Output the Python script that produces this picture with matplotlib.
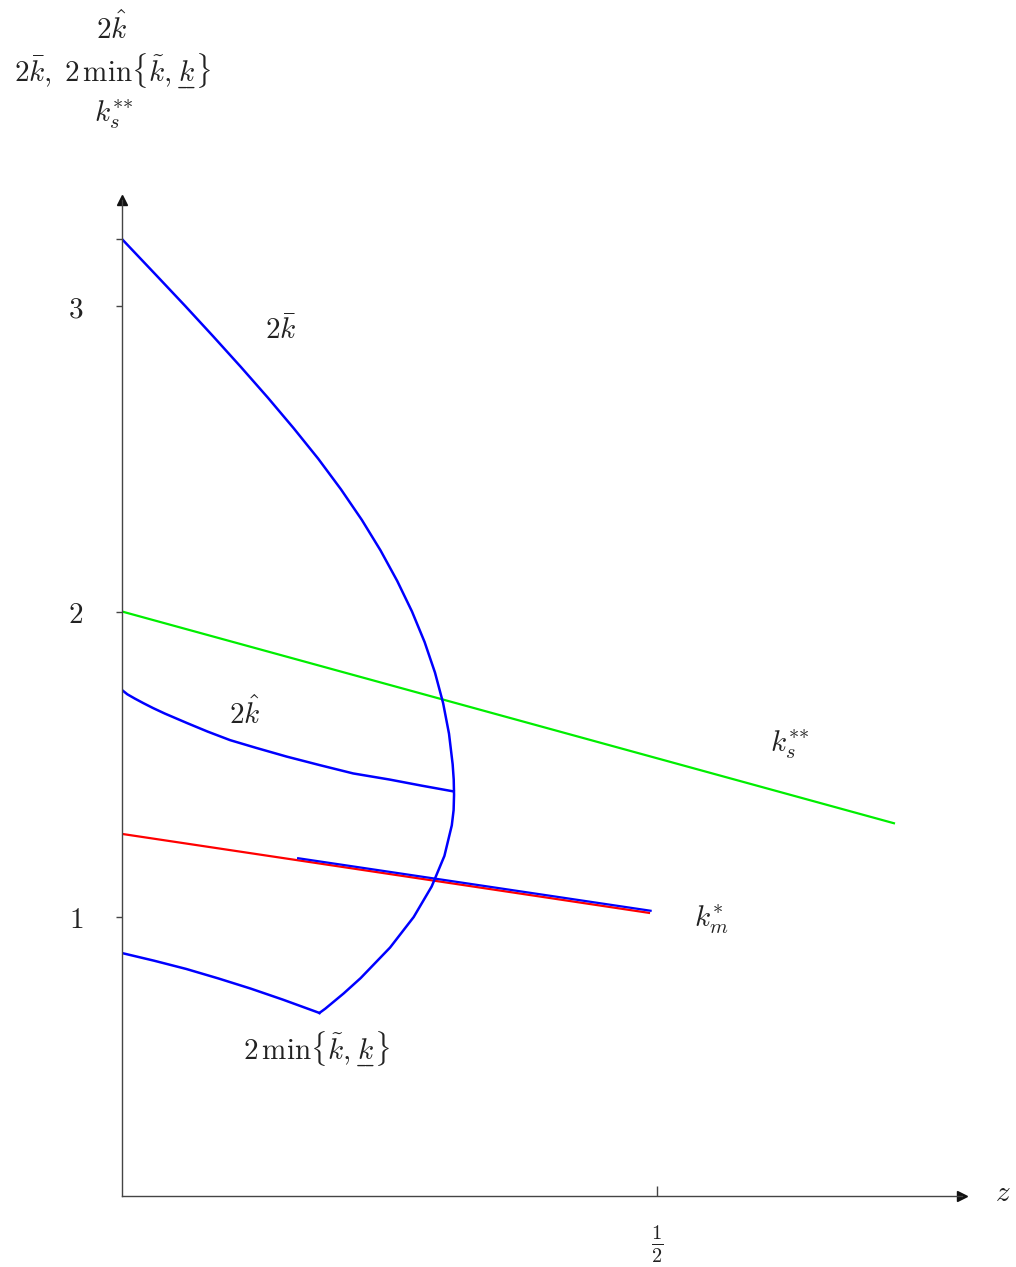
import io
import matplotlib
matplotlib.use("Agg")
import matplotlib.pyplot as plt
from matplotlib.font_manager import FontProperties
from matplotlib.mathtext import math_to_image

plt.rcParams['mathtext.fontset'] = 'cm'
plt.rcParams['font.family'] = ['DejaVu Serif']

# ---- data ----
# 2*k_bar curve (upper branch through the vertex down to the cusp)
z_kbar = [0.0, 0.0322, 0.0591, 0.0854, 0.1112, 0.1363, 0.1604, 0.1834, 0.2046,
          0.2241, 0.2416, 0.2572, 0.2710, 0.2828, 0.2925, 0.3001, 0.3056, 0.3090,
          0.3100, 0.3103, 0.3099, 0.3082, 0.3013, 0.2894, 0.2726, 0.2505, 0.2230,
          0.2072, 0.1900, 0.1845]
y_kbar = [3.219, 3.100, 3.000, 2.900, 2.800, 2.700, 2.600, 2.500, 2.400,
          2.300, 2.200, 2.100, 2.000, 1.900, 1.800, 1.700, 1.600, 1.500,
          1.450, 1.400, 1.350, 1.300, 1.200, 1.100, 1.000, 0.900, 0.800,
          0.750, 0.700, 0.686]
# 2*k_hat curve
z_khat = [0.0, 0.005, 0.012, 0.020, 0.029, 0.040, 0.0607, 0.080, 0.101, 0.125,
          0.154, 0.185, 0.216, 0.250, 0.280, 0.3100]
y_khat = [1.743, 1.729, 1.715, 1.700, 1.684, 1.666, 1.635, 1.607, 1.579, 1.554,
          1.525, 1.497, 1.470, 1.450, 1.430, 1.411]
# 2*min{k_tilde, k_under}
z_kmin = [0.0, 0.030, 0.060, 0.090, 0.120, 0.150, 0.1845]
y_kmin = [0.882, 0.857, 0.830, 0.799, 0.766, 0.730, 0.686]
# k_s** (green)
z_ks = [0.0, 0.7224]
y_ks = [2.0, 1.306]
# k_m* (red)
z_km = [0.0, 0.4935]
y_km = [1.272, 1.013]
# short blue segment over k_m*
z_seg = [0.1636, 0.4950]
y_seg = [1.193, 1.020]

yticks = [1, 2, 3, 3.219]
ytick_labels = [r'$1$', r'$2$', r'$3$', '']
xticks = [0.5]
xtick_labels = [r'$\frac{1}{2}$']

# ---- figure ----
W, H = 1016, 1267
fig = plt.figure(figsize=(W / 100, H / 100), dpi=100)
ax = fig.add_axes([122 / W, 1 - 1196 / H, (962 - 122) / W, (1196 - 200) / H])
ax.set_xlim(0, 0.785)
ax.set_ylim(0.0868, 3.347)

axc = '#444444'
txtc = '#222222'
for s in ['top', 'right']:
    ax.spines[s].set_visible(False)
for s in ['left', 'bottom']:
    ax.spines[s].set_color(axc)
    ax.spines[s].set_linewidth(1.0)
ax.plot(1, 0, '>', color='#111111', ms=7, transform=ax.transAxes, clip_on=False)
ax.plot(0, 1, '^', color='#111111', ms=7, transform=ax.transAxes, clip_on=False)

FS = 21
ax.set_yticks(yticks)
ax.set_yticklabels(ytick_labels, fontsize=FS, color=txtc)
ax.tick_params(axis='y', direction='out', length=4, width=1, color=axc, pad=24)
ax.set_xticks(xticks)
ax.set_xticklabels(xtick_labels, fontsize=FS, color=txtc)
ax.tick_params(axis='x', direction='in', length=7, width=1, color=axc, pad=20)

lw = 1.8
ax.plot(z_ks, y_ks, color='#00ee00', lw=1.6, solid_capstyle='butt')
ax.plot(z_km, y_km, color='#ff0000', lw=1.6, solid_capstyle='butt')
ax.plot(z_seg, y_seg, color='#0000ff', lw=1.6, solid_capstyle='butt')
ax.plot(z_kbar, y_kbar, color='#0000ff', lw=lw, solid_joinstyle='round')
ax.plot(z_khat, y_khat, color='#0000ff', lw=lw, solid_joinstyle='round')
ax.plot(z_kmin, y_kmin, color='#0000ff', lw=lw, solid_joinstyle='round')


def ok(s):
    try:
        math_to_image(s, io.BytesIO(), prop=FontProperties(size=10), format='png')
        return True
    except Exception:
        return False


under_k = r'k'
for cand in [r'\underline{k}', r'\underset{\_\!\_}{k}', r'\underset{\_}{k}']:
    if ok('$' + cand + '$'):
        under_k = cand
        break

ss = r'{*}{*}'
if not ok(r'$k_s^{' + ss + r'}$'):
    ss = r'**'

lbl_min = r'$2\,\min\{\tilde{k},' + under_k + r'\}$'

ax.text(0.148, 2.922, r'$2\bar{k}$', fontsize=FS, color=txtc, ha='center', va='center')
ax.text(0.115, 1.668, r'$2\hat{k}$', fontsize=FS, color=txtc, ha='center', va='center')
ax.text(0.182, 0.565, lbl_min, fontsize=FS, color=txtc, ha='center', va='center')
ax.text(0.624, 1.563, r'$k_s^{' + ss + r'}$', fontsize=FS, color=txtc, ha='center', va='center')
ax.text(0.551, 0.990, r'$k_m^{*}$', fontsize=FS, color=txtc, ha='center', va='center')
ax.text(0.823, 0.097, r'$z$', fontsize=FS, color=txtc, ha='center', va='center')

fig.text(112 / W, 1 - 28 / H, r'$2\hat{k}$', fontsize=FS, color=txtc, ha='center', va='center')
fig.text(112 / W, 1 - 72 / H, r'$2\bar{k},\;' + lbl_min[1:], fontsize=FS, color=txtc,
         ha='center', va='center')
fig.text(114 / W, 1 - 115 / H, r'$k_s^{' + ss + r'}$', fontsize=FS, color=txtc,
         ha='center', va='center')

fig.savefig('out.png', dpi=100)
